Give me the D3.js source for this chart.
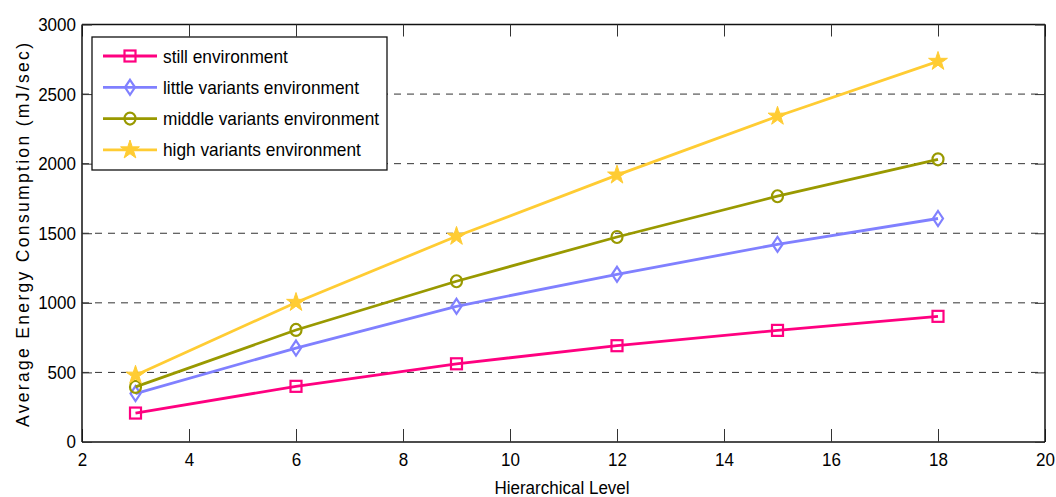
<!DOCTYPE html>
<html><head><meta charset="utf-8">
<script src="https://cdn.jsdelivr.net/npm/d3@7"></script>
<style>body{margin:0;background:#fff;} svg{display:block;} text{font-family:"Liberation Sans",Arial,sans-serif;fill:#000;}</style>
</head><body><svg id="c" width="1056" height="497"></svg>
<script>
const levels = [3, 6, 9, 12, 15, 18];
const seriesNames = ["still environment", "little variants environment", "middle variants environment", "high variants environment"];
const stillValues = [208, 400, 562, 692, 802, 903];
const littleValues = [348, 675, 975, 1205, 1420, 1606];
const middleValues = [396, 805, 1155, 1473, 1766, 2031];
const highValues = [480, 1003, 1478, 1918, 2341, 2735];
const xTicks = [2, 4, 6, 8, 10, 12, 14, 16, 18, 20];
const yTicks = [0, 500, 1000, 1500, 2000, 2500, 3000];
const colors = ["#ff0080", "#8080ff", "#999900", "#ffcc33"];
const markers = ["square", "diamond", "circle", "star"];

const svg = d3.select("#c");
const L = 82, R = 1045, T = 24.5, B = 442;
const x = d3.scaleLinear().domain([2, 20]).range([L, R]);
const y = d3.scaleLinear().domain([0, 3000]).range([B, T]);

// grid
svg.append("g").selectAll("line").data(yTicks.filter(v => v > 0 && v < 3000)).join("line")
  .attr("x1", L).attr("x2", R).attr("y1", d => y(d)).attr("y2", d => y(d))
  .attr("stroke", "#333").attr("stroke-width", 1).attr("stroke-dasharray", "7,6");

// axes
const fs = 18.5, sx = 0.92;
const xb = svg.append("g").attr("transform", `translate(0,${B})`)
  .call(d3.axisBottom(x).tickValues(xTicks).tickSize(-13).tickPadding(11).tickFormat(d3.format("d")));
const xt = svg.append("g").attr("transform", `translate(0,${T})`)
  .call(d3.axisTop(x).tickValues(xTicks).tickSize(-12).tickFormat(""));
const yl = svg.append("g").attr("transform", `translate(${L},0)`)
  .call(d3.axisLeft(y).tickValues(yTicks).tickSize(-10).tickPadding(6).tickFormat(d3.format("d")));
const yr = svg.append("g").attr("transform", `translate(${R},0)`)
  .call(d3.axisRight(y).tickValues(yTicks).tickSize(-10).tickFormat(""));
[xb, xt, yl, yr].forEach(g => {
  g.select(".domain").attr("stroke", "#111").attr("stroke-width", 1.5);
  g.selectAll(".tick line").attr("stroke", "#333").attr("stroke-width", 1);
  g.selectAll("text").attr("font-size", fs).attr("font-family", "Liberation Sans, Arial, sans-serif").attr("fill", "#000");
});
xb.selectAll(".tick text").attr("transform", `scale(${sx},1)`);
yl.selectAll(".tick text").attr("x", -6 / sx).attr("transform", `scale(${sx},1)`);
xb.selectAll(".domain").attr("d", `M${L},0H${R}`);
xt.selectAll(".domain").attr("d", `M${L},0H${R}`);
yl.selectAll(".domain").attr("d", `M0,${B}V${T}`);
yr.selectAll(".domain").attr("d", `M0,${B}V${T}`);

// axis labels
svg.append("text").attr("transform", `translate(562,494) scale(${sx},1)`).attr("text-anchor", "middle")
  .attr("font-size", 18.5).text("Hierarchical Level");
svg.append("text").attr("transform", "translate(29,235) rotate(-90)").attr("text-anchor", "middle")
  .attr("font-size", 17.5).attr("textLength", 384).attr("lengthAdjust", "spacing")
  .text("Average Energy Consumption (mJ/sec)");

const allValues = [stillValues, littleValues, middleValues, highValues];

function drawMarker(g, type, color, cx, cy) {
  if (type === "square") {
    g.append("rect").attr("x", cx - 5.5).attr("y", cy - 5.5).attr("width", 11).attr("height", 11)
      .attr("fill", "none").attr("stroke", color).attr("stroke-width", 2.2);
  } else if (type === "diamond") {
    g.append("path").attr("d", `M${cx},${cy - 7.5}L${cx + 5},${cy}L${cx},${cy + 7.5}L${cx - 5},${cy}Z`)
      .attr("fill", "none").attr("stroke", color).attr("stroke-width", 2.2);
  } else if (type === "circle") {
    g.append("ellipse").attr("cx", cx).attr("cy", cy).attr("rx", 5.5).attr("ry", 6)
      .attr("fill", "none").attr("stroke", color).attr("stroke-width", 2.2);
  } else {
    g.append("path").attr("d", d3.symbol(d3.symbolStar, 110)()).attr("transform", `translate(${cx},${cy})`)
      .attr("fill", color).attr("stroke", color).attr("stroke-width", 1);
  }
}

const line = d3.line().x((d, i) => x(levels[i])).y(d => y(d));
allValues.forEach((vals, k) => {
  const g = svg.append("g");
  g.append("path").attr("d", line(vals)).attr("fill", "none").attr("stroke", colors[k]).attr("stroke-width", 2.8);
  vals.forEach((v, i) => drawMarker(g, markers[k], colors[k], x(levels[i]), y(v)));
});

// legend
const lg = svg.append("g");
lg.append("rect").attr("x", 92).attr("y", 37).attr("width", 295).attr("height", 133)
  .attr("fill", "#fff").attr("stroke", "#111").attr("stroke-width", 1.3);
seriesNames.forEach((name, k) => {
  const cy = 56 + k * 31.3;
  lg.append("line").attr("x1", 103).attr("x2", 157).attr("y1", cy).attr("y2", cy)
    .attr("stroke", colors[k]).attr("stroke-width", 2.8);
  drawMarker(lg, markers[k], colors[k], 130, cy);
  lg.append("text").attr("transform", `translate(163,${cy + 6.5}) scale(${sx},1)`).attr("font-size", 18.8).text(name);
});
</script></body></html>
